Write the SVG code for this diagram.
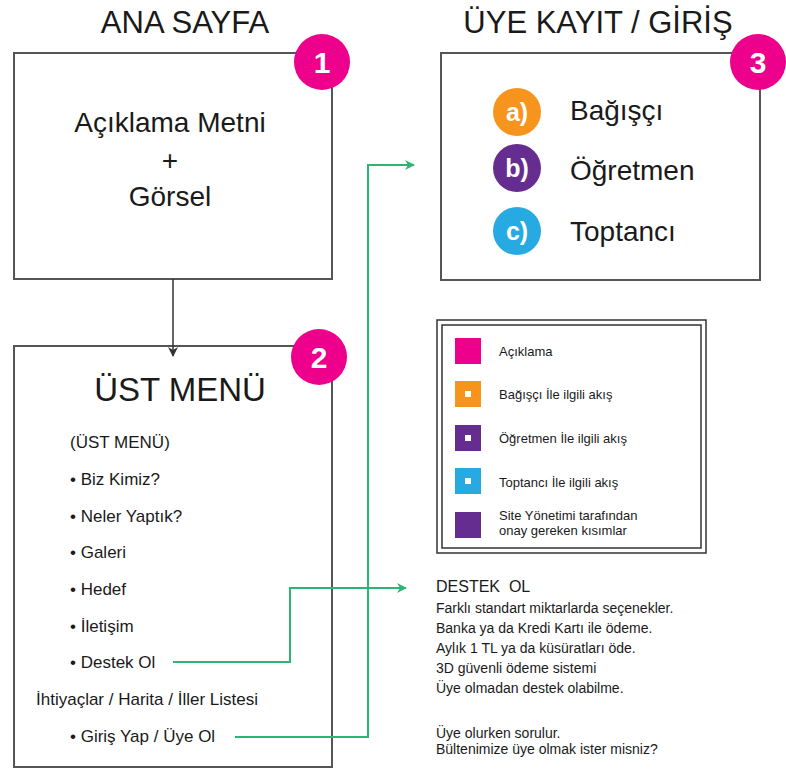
<svg xmlns="http://www.w3.org/2000/svg" width="786" height="772" viewBox="0 0 786 772">
<style>
text{font-family:"Liberation Sans","DejaVu Sans",sans-serif;fill:#1a1a1a}
.box{fill:#fff;stroke:#555;stroke-width:2}
.title{font-size:31px}
.badge{fill:#EC008C}
.bnum{font-size:30px;font-weight:bold;fill:#fff;text-anchor:middle}
.big{font-size:28px}
.item{font-size:17px}
.leg{font-size:13px}
.note{font-size:14px}
.g{fill:none;stroke:#2BB673;stroke-width:2}
.k{fill:none;stroke:#333;stroke-width:1.5}
</style>
<defs>
<marker id="ga" markerWidth="10" markerHeight="10" refX="9" refY="5" orient="auto" markerUnits="userSpaceOnUse" viewBox="0 0 10 10"><path d="M0,0 L10,5 L0,10 L3,5 Z" fill="#2BB673"/></marker>
<marker id="ka" markerWidth="10" markerHeight="10" refX="9" refY="5" orient="auto" markerUnits="userSpaceOnUse" viewBox="0 0 10 10"><path d="M0,0 L10,5 L0,10 L3,5 Z" fill="#333"/></marker>
</defs>
<rect width="786" height="772" fill="#fff"/>

<g id="node1">
<text class="title" x="185" y="33" text-anchor="middle">ANA SAYFA</text>
<rect class="box" x="14" y="53" width="318" height="226"/>
<text class="big" x="170" y="132" text-anchor="middle">Açıklama Metni</text>
<text class="big" x="170" y="170" text-anchor="middle">+</text>
<text class="big" x="170" y="206" text-anchor="middle">Görsel</text>
<circle class="badge" cx="322" cy="62" r="28"/>
<text class="bnum" x="322" y="73">1</text>
</g>

<g id="node2">
<rect class="box" x="14" y="346" width="318" height="421"/>
<text x="180" y="401" text-anchor="middle" font-size="33">ÜST MENÜ</text>
<text class="item" x="70" y="448">(ÜST MENÜ)</text>
<text class="item" x="70" y="485">• Biz Kimiz?</text>
<text class="item" x="70" y="522">• Neler Yaptık?</text>
<text class="item" x="70" y="558">• Galeri</text>
<text class="item" x="70" y="595">• Hedef</text>
<text class="item" x="70" y="632">• İletişim</text>
<text class="item" x="70" y="668">• Destek Ol</text>
<text class="item" x="36" y="705">İhtiyaçlar / Harita / İller Listesi</text>
<text class="item" x="70" y="742">• Giriş Yap / Üye Ol</text>
<circle class="badge" cx="319" cy="357" r="28"/>
<text class="bnum" x="319" y="368">2</text>
</g>

<g id="node3">
<text class="title" x="598" y="33" text-anchor="middle">ÜYE KAYIT / GİRİŞ</text>
<rect class="box" x="441" y="53" width="319" height="227"/>
<circle cx="517" cy="112" r="24" fill="#F7941D"/>
<text x="517" y="121" text-anchor="middle" font-size="25" font-weight="bold" style="fill:#fff">a)</text>
<circle cx="517" cy="168" r="24" fill="#662D91"/>
<text x="517" y="177" text-anchor="middle" font-size="25" font-weight="bold" style="fill:#fff">b)</text>
<circle cx="517" cy="231" r="24" fill="#27AAE1"/>
<text x="517" y="240" text-anchor="middle" font-size="25" font-weight="bold" style="fill:#fff">c)</text>
<text class="big" x="570" y="120">Bağışçı</text>
<text class="big" x="570" y="180">Öğretmen</text>
<text class="big" x="570" y="241">Toptancı</text>
<circle class="badge" cx="758" cy="62" r="28"/>
<text class="bnum" x="758" y="73">3</text>
</g>

<g id="legend">
<rect x="437" y="320" width="269" height="233" fill="none" stroke="#333" stroke-width="1.5"/>
<rect x="442" y="325" width="259" height="223" fill="none" stroke="#333" stroke-width="1.5"/>
<rect x="455" y="338" width="26" height="26" fill="#EC008C"/>
<rect x="455" y="381" width="26" height="26" fill="#F7941D"/>
<rect x="465" y="391" width="6" height="6" fill="#fff"/>
<rect x="455" y="425" width="26" height="26" fill="#662D91"/>
<rect x="465" y="435" width="6" height="6" fill="#fff"/>
<rect x="455" y="468" width="26" height="26" fill="#27AAE1"/>
<rect x="465" y="478" width="6" height="6" fill="#fff"/>
<rect x="455" y="512" width="26" height="26" fill="#662D91"/>
<text class="leg" x="499" y="356">Açıklama</text>
<text class="leg" x="499" y="399">Bağışçı İle ilgili akış</text>
<text class="leg" x="499" y="443">Öğretmen İle ilgili akış</text>
<text class="leg" x="499" y="487">Toptancı İle ilgili akış</text>
<text class="leg" x="499" y="520" font-size="12.5">Site Yönetimi tarafından</text>
<text class="leg" x="499" y="535" font-size="12.5">onay gereken kısımlar</text>
</g>

<g id="destek">
<text x="436" y="592" font-size="16" xml:space="preserve">DESTEK  OL</text>
<text class="note" x="436" y="613">Farklı standart miktarlarda seçenekler.</text>
<text class="note" x="436" y="633">Banka ya da Kredi Kartı ile ödeme.</text>
<text class="note" x="436" y="653">Aylık 1 TL ya da küsüratları öde.</text>
<text class="note" x="436" y="673">3D güvenli ödeme sistemi</text>
<text class="note" x="436" y="693">Üye olmadan destek olabilme.</text>
<text class="note" x="436" y="738">Üye olurken sorulur.</text>
<text class="note" x="436" y="754">Bültenimize üye olmak ister misniz?</text>
</g>

<g id="connectors">
<path class="k" d="M173,279 V356" marker-end="url(#ka)"/>
<path class="g" d="M173,662 H290 V588 H406" marker-end="url(#ga)"/>
<path class="g" d="M235,737 H368 V165 H414" marker-end="url(#ga)"/>
</g>
</svg>
